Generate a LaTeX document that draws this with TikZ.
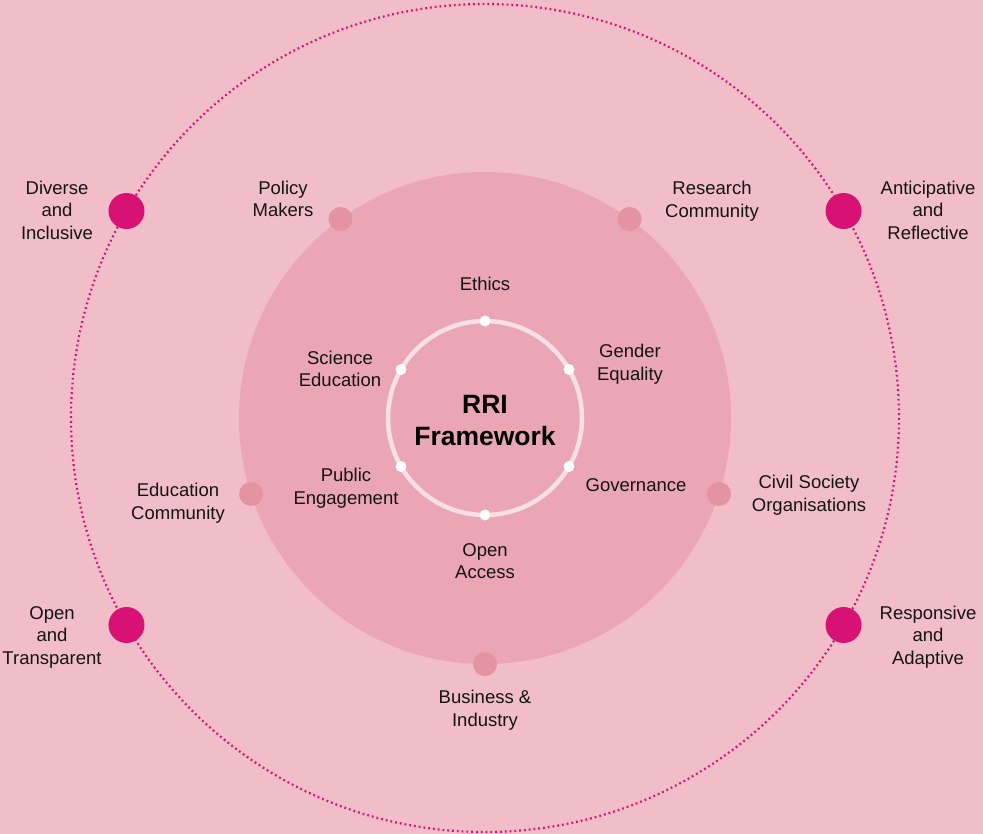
\documentclass[tikz,border=0pt]{standalone}
\usepackage{fontspec}
\setmainfont{Liberation Sans}
\usetikzlibrary{calc}
\definecolor{bgpink}{RGB}{240,189,201}
\definecolor{midpink}{RGB}{234,166,181}
\definecolor{dotpink}{RGB}{228,147,163}
\definecolor{ringpink}{RGB}{247,223,229}
\definecolor{magenta}{RGB}{216,17,116}
\tikzset{
  lbl/.style={align=center, text=black!92, font=\fontsize{18.5}{22.5}\selectfont, inner sep=0pt},
  bigdot/.style={circle, fill=magenta, minimum size=36pt, inner sep=0pt},
  middot/.style={circle, fill=dotpink, minimum size=24pt, inner sep=0pt},
  ringdot/.style={circle, fill=white, minimum size=11pt, inner sep=0pt},
}
\begin{document}
\begin{tikzpicture}[x=1pt,y=-1pt]
\fill[bgpink] (0,0) rectangle (983,834);
\useasboundingbox (0,0) rectangle (983,834);
\coordinate (c) at (485,418);
% outer dotted circle
\draw[magenta, line width=2.2pt, dash pattern=on 1.8pt off 3pt] (c) circle[radius=414];
% middle filled circle
\fill[midpink] (c) circle[radius=246];
% inner ring
\draw[ringpink, line width=4.5pt] (c) circle[radius=97];
% ring dots
\foreach \a/\n in {90/r1,30/r2,-30/r3,-90/r4,210/r5,150/r6}
  \node[ringdot] (\n) at ($(c)+(\a:97 and -97)$) {};
% middle dots
\foreach \a/\n in {126/m1,54/m2,-18/m3,-90/m4,198/m5}
  \node[middot] (\n) at ($(c)+(\a:246 and -246)$) {};
% outer big dots
\foreach \a/\n in {150/o1,30/o2,210/o3,330/o4}
  \node[bigdot] (\n) at ($(c)+(\a:414 and -414)$) {};
% center
\node[align=center, inner sep=0pt, font=\bfseries\fontsize{26.5}{32}\selectfont] (rri) at (485,421) {RRI\\Framework};
% labels
\node[lbl] (t1) at (57,210) {Diverse\\and\\Inclusive};
\node[lbl] (t2) at (928,210) {Anticipative\\and\\Reflective};
\node[lbl] (t3) at (52,637) {Open\\and\\Transparent};
\node[lbl] (t4) at (928,637) {Responsive\\and\\Adaptive};
\node[lbl] (t5) at (283,199) {Policy\\Makers};
\node[lbl] (t6) at (712,201) {Research\\Community};
\node[lbl] (t7) at (178,503) {Education\\Community};
\node[lbl] (t8) at (809,495) {Civil Society\\Organisations};
\node[lbl] (t9) at (485,710) {Business \&\\Industry};
\node[lbl] (u1) at (485,284) {Ethics};
\node[lbl] (u2) at (340,369) {Science\\Education};
\node[lbl] (u3) at (630,364) {Gender\\Equality};
\node[lbl] (u4) at (346,488) {Public\\Engagement};
\node[lbl] (u5) at (636,485) {Governance};
\node[lbl] (u6) at (485,561) {Open\\Access};
\end{tikzpicture}
\end{document}
